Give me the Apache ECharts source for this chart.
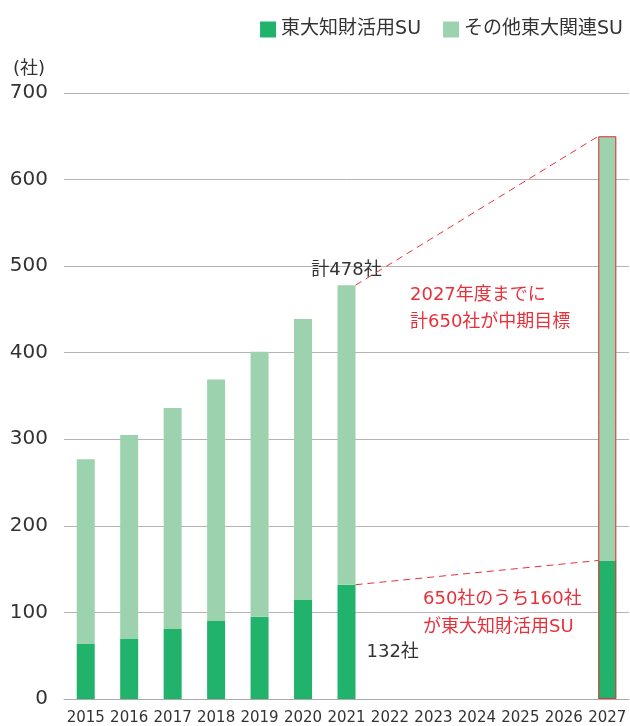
<!DOCTYPE html>
<html>
<head>
<meta charset="utf-8">
<script src="https://cdn.jsdelivr.net/npm/echarts@6/dist/echarts.min.js"></script>
<style>
html,body{margin:0;padding:0;background:#fff;}
#chart{width:630px;height:726px;}
</style>
</head>
<body>
<div id="chart"></div>
<script>
var categories = ['2015','2016','2017','2018','2019','2020','2021','2022','2023','2024','2025','2026','2027'];
var utokyoIP = [64, 70, 81, 90, 95, 115, 132, null, null, null, null, null, 160];
var totals = [277, 305, 336, 369, 401, 439, 478, null, null, null, null, null, 650];
var seriesNames = ['東大知財活用SU', 'その他東大関連SU'];
var yTicks = { min: 0, max: 700, interval: 100 };
var yUnit = '(社)';
var totalLabel2021 = '計478社';
var ipLabel2021 = '132社';
var noteGoal = ['2027年度までに', '計650社が中期目標'];
var noteIP = ['650社のうち160社', 'が東大知財活用SU'];
// connectors: [fromCategory, fromValue, toCategory, toValue]
var connectors = [
  ['2021', 478, '2027', 650],
  ['2021', 132, '2027', 160]
];
var targetCategory = '2027';

var FONT = "'DejaVu Sans', 'Noto Sans CJK JP', sans-serif";
var DARK = '#21b26c', LIGHT = '#9cd3ae', RED = '#e8303a', TEXT = '#333333';
var BAR_W = 18;

var others = totals.map(function (t, i) { return t == null ? null : t - utokyoIP[i]; });
var idx2021 = categories.indexOf('2021');
var tIdx = categories.indexOf(targetCategory);

var darkData = utokyoIP.map(function (v, i) {
  if (i === idx2021) {
    return { value: v, label: { show: true, position: 'right', distance: 11, offset: [0, 10],
      formatter: ipLabel2021, color: TEXT, fontSize: 18, fontFamily: FONT } };
  }
  return v;
});
var lightData = others.map(function (v, i) {
  if (i === idx2021) {
    return { value: v, label: { show: true, position: 'top', distance: 6,
      formatter: totalLabel2021, color: TEXT, fontSize: 18, fontFamily: FONT } };
  }
  return v;
});

var connData = connectors.map(function (c) {
  return [categories.indexOf(c[0]), c[1], categories.indexOf(c[2]), c[3]];
});

var chart = echarts.init(document.getElementById('chart'), null, { renderer: 'canvas' });
chart.setOption({
  animation: false,
  textStyle: { fontFamily: FONT },
  legend: {
    data: seriesNames,
    right: 2, top: 15,
    itemWidth: 16, itemHeight: 16, itemGap: 22,
    icon: 'rect',
    textStyle: { fontSize: 19, color: TEXT, fontFamily: FONT }
  },
  grid: { left: 64, right: 1, top: 93, bottom: 27, containLabel: false },
  xAxis: {
    type: 'category',
    data: categories,
    axisLine: { lineStyle: { color: '#aaaaaa' } },
    axisTick: { show: false },
    axisLabel: { color: TEXT, fontSize: 15, margin: 12, fontFamily: FONT, interval: 0 }
  },
  yAxis: {
    type: 'value',
    min: yTicks.min, max: yTicks.max, interval: yTicks.interval,
    name: yUnit,
    nameLocation: 'end',
    nameGap: 15,
    nameTextStyle: { color: TEXT, fontSize: 18, align: 'right', padding: [0, 19, 0, 0], fontFamily: FONT },
    axisLine: { show: false },
    axisTick: { show: false },
    splitLine: { lineStyle: { color: '#b4b4b4', width: 1 } },
    axisLabel: { color: TEXT, fontSize: 20, margin: 16, fontFamily: FONT }
  },
  series: [
    {
      name: seriesNames[0], type: 'bar', stack: 'su', barWidth: BAR_W,
      itemStyle: { color: DARK }, data: darkData
    },
    {
      name: seriesNames[1], type: 'bar', stack: 'su', barWidth: BAR_W,
      itemStyle: { color: LIGHT }, data: lightData
    },
    {
      type: 'custom', silent: true, z: 10, clip: false,
      data: connData,
      renderItem: function (params, api) {
        var p1 = api.coord([api.value(0), api.value(1)]);
        var p2 = api.coord([api.value(2), api.value(3)]);
        return {
          type: 'line',
          shape: { x1: p1[0] + BAR_W / 2, y1: p1[1], x2: p2[0] - BAR_W / 2, y2: p2[1] },
          style: { stroke: RED, lineWidth: 1, lineDash: [7, 5], fill: null }
        };
      }
    },
    {
      type: 'custom', silent: true, z: 11, clip: false,
      data: [[tIdx, totals[tIdx]]],
      renderItem: function (params, api) {
        var base = api.coord([api.value(0), 0]);
        var top = api.coord([api.value(0), api.value(1)]);
        return {
          type: 'rect',
          shape: { x: base[0] - BAR_W / 2 + 0.5, y: top[1] + 0.5, width: BAR_W - 1, height: base[1] - top[1] - 1 },
          style: { stroke: RED, lineWidth: 1, fill: null }
        };
      }
    }
  ],
  graphic: [
    { type: 'text', left: 410, top: 282,
      style: { text: noteGoal.join('\n'), fill: RED, fontSize: 18, lineHeight: 27, fontFamily: FONT } },
    { type: 'text', left: 423, top: 585,
      style: { text: noteIP.join('\n'), fill: RED, fontSize: 18, lineHeight: 28, fontFamily: FONT } }
  ]
});
</script>
</body>
</html>
